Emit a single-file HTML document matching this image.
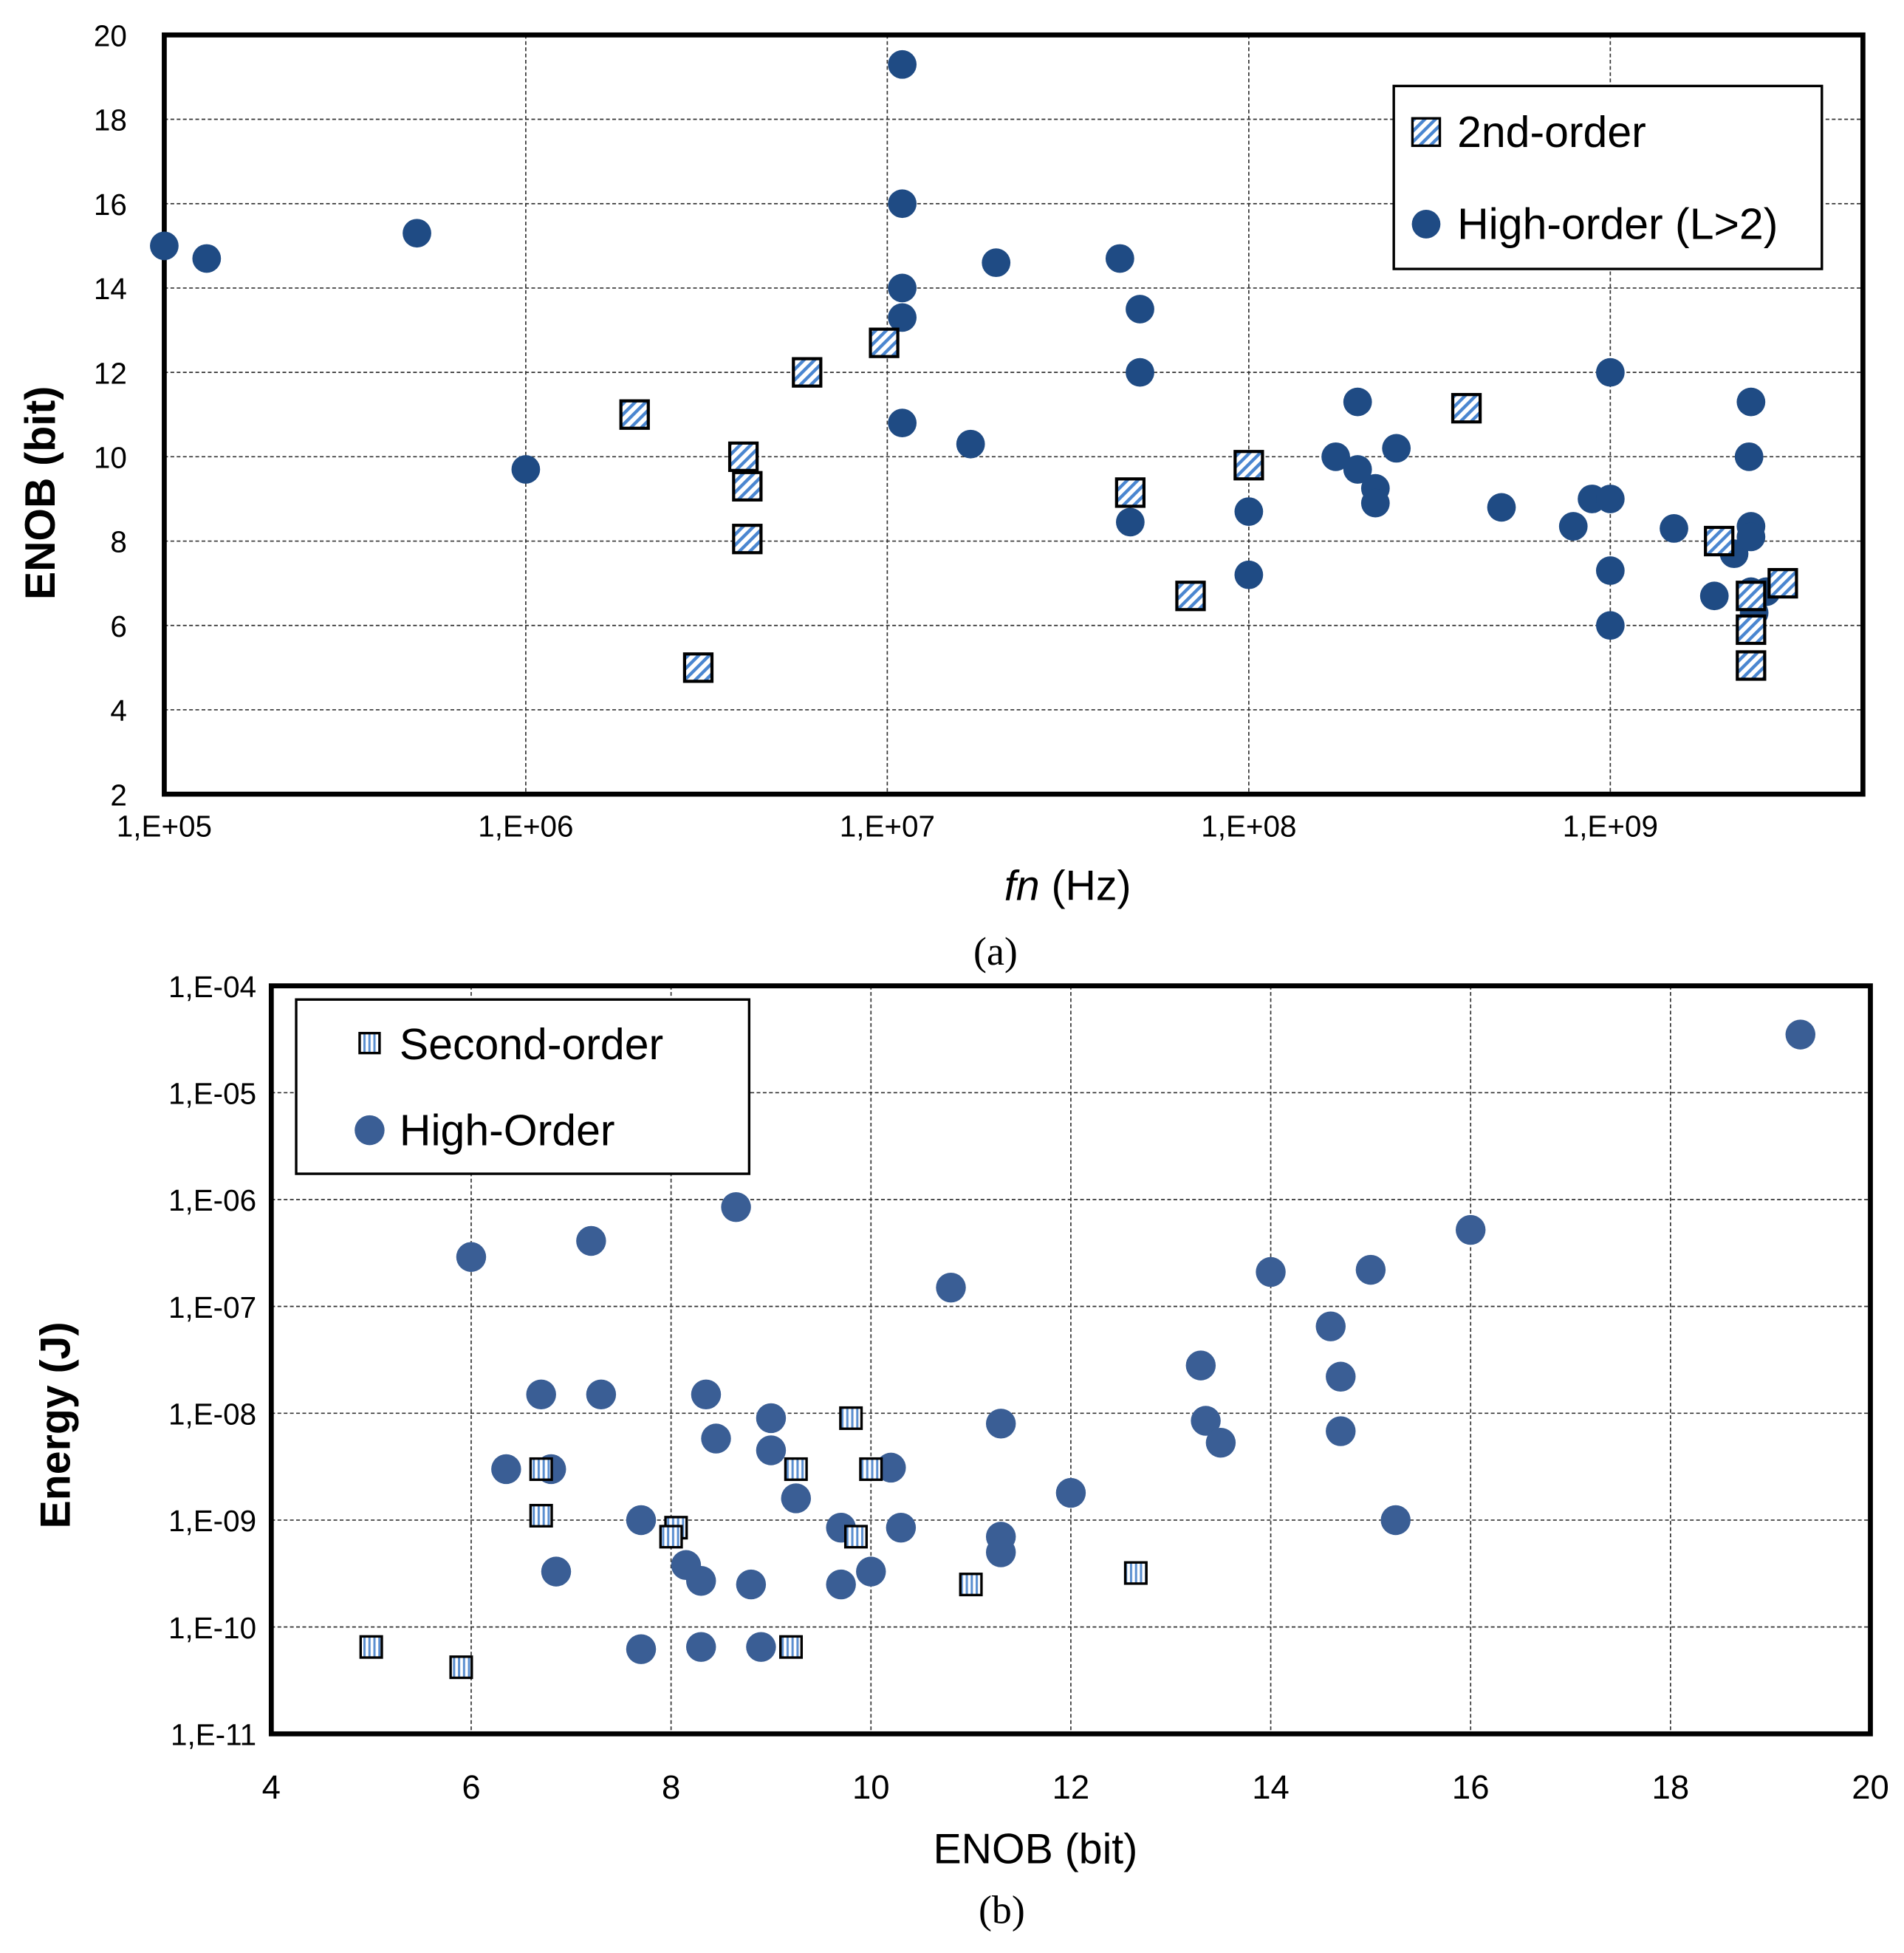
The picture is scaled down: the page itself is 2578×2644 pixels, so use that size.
<!DOCTYPE html>
<html><head><meta charset="utf-8"><style>
html,body{margin:0;padding:0;background:#fff;}
svg{display:block;font-family:"Liberation Sans",sans-serif;}
</style></head><body>
<svg id="fig" width="2578" height="2644" viewBox="0 0 1530 1569" xmlns="http://www.w3.org/2000/svg">
<defs>
<pattern id="diag" width="6" height="6" patternUnits="userSpaceOnUse" patternTransform="rotate(45)">
<rect width="6" height="6" fill="#fff"/><rect width="2.6" height="6" fill="#4a86d0"/></pattern>
<pattern id="vert" width="4" height="4" patternUnits="userSpaceOnUse">
<rect width="4" height="4" fill="#fff"/><rect width="1.8" height="4" fill="#5b8fd0"/></pattern>
</defs>
<g id="chartA"></g>
<g id="chartB"></g>
</svg>
<script>
// Chart (a): ENOB vs fn
const aCircleFn=[1e5,1.31e5,5e5,1e6,1.1e7,1.1e7,1.1e7,1.1e7,1.1e7,1.7e7,2e7,4.4e7,5e7,5e7,4.7e7,1e8,1e8,1.74e8,2e8,2e8,2.24e8,2.24e8,2.56e8,5e8,7.9e8,8.9e8,1e9,1e9,1e9,1e9,1.5e9,1.94e9,2.2e9,2.45e9,2.42e9,2.45e9,2.45e9,2.45e9,2.5e9,2.7e9];
const aCircleEnob=[15,14.7,15.3,9.7,19.3,16,14,13.3,10.8,10.3,14.6,14.7,13.5,12,8.45,8.7,7.2,10,11.3,9.7,9.25,8.9,10.2,8.8,8.35,9,9,12,7.3,6,8.3,6.7,7.7,11.3,10,8.35,8.1,6.8,6.3,6.8];
const aSquareFn=[2e6,4e6,4.1e6,4.1e6,3e6,6e6,9.8e6,4.7e7,6.9e7,1e8,4e8,2e9,2.45e9,2.45e9,2.45e9,3e9];
const aSquareEnob=[11,10,9.3,8.05,5,12,12.7,9.15,6.7,9.8,11.15,8,6.7,5.9,5.05,7];
const aYTicks=[2,4,6,8,10,12,14,16,18,20];
const aXTicks=[5,6,7,8,9];
const aXLabels=["1,E+05","1,E+06","1,E+07","1,E+08","1,E+09"];
// Chart (b): Energy vs ENOB
const bSquareEnob=[5,5.9,6.7,6.7,8.05,8,9.2,9.25,9.8,9.85,10,11,12.65];
const bSquareEnergy=[6.5e-11,4.2e-11,3e-9,1.1e-9,8.5e-10,7e-10,6.5e-11,3e-9,9e-9,7e-10,3e-9,2.5e-10,3.2e-10];
const bCircleEnob=[19.3,16,15,14,14.6,14.7,14.7,15.25,13.3,13.35,13.5,12,11.3,11.3,11.3,10.8,10.2,10.3,10,9.7,9.7,9.25,9,9,8.9,8.8,8.65,8.45,8.35,8.3,8.3,8.15,7.7,7.7,7.3,7.2,6.85,6.8,6.7,6.35,6];
const bCircleEnergy=[3.5e-5,5.2e-7,2.2e-7,2.1e-7,6.5e-8,2.2e-8,6.8e-9,1e-9,2.8e-8,8.5e-9,5.3e-9,1.8e-9,8e-9,7e-10,5e-10,1.5e-7,3.1e-9,8.5e-10,3.3e-10,8.5e-10,2.5e-10,1.6e-9,9e-9,4.5e-9,6.5e-11,2.5e-10,8.5e-7,5.8e-9,1.5e-8,6.5e-11,2.7e-10,3.8e-10,1e-9,6.2e-11,1.5e-8,4.1e-7,3.3e-10,3e-9,1.5e-8,3e-9,2.9e-7];
const bYTicks=[-11,-10,-9,-8,-7,-6,-5,-4];
const bYLabels=["1,E-11","1,E-10","1,E-09","1,E-08","1,E-07","1,E-06","1,E-05","1,E-04"];
const bXTicks=[4,6,8,10,12,14,16,18,20];

const NS="http://www.w3.org/2000/svg";
function mk(parent,tag,attrs,text){const e=document.createElementNS(NS,tag);for(const k in attrs)e.setAttribute(k,attrs[k]);if(text!==undefined)e.textContent=text;parent.appendChild(e);return e;}

// ---- Chart A ----
const A=document.getElementById('chartA');
const aL=132,aR=1497,aT=28,aB=638;
const ax=v=>aL+(Math.log10(v)-5)*290.5;
const ay=v=>aB-(v-2)*(aB-aT)/18;
aYTicks.forEach(t=>{
 if(t>2&&t<20){const g=mk(A,'line',{x1:aL,x2:aR,y1:ay(t),y2:ay(t),stroke:'#333','stroke-width':1,'stroke-dasharray':'3,2'});
 
 }
 const l=mk(A,'text',{x:aL-30,y:ay(t)+9,'text-anchor':'end','font-size':24},String(t));
 
 
});
aXTicks.forEach((t,i)=>{
 const x=ax(Math.pow(10,t));
 if(i>0){const g=mk(A,'line',{x1:x,x2:x,y1:aT,y2:aB,stroke:'#333','stroke-width':1,'stroke-dasharray':'3,2'});
 
 }
 const l=mk(A,'text',{x:x,y:aB+34,'text-anchor':'middle','font-size':24},aXLabels[i]);
 
 
});
const aFrame=mk(A,'rect',{x:aL,y:aT,width:aR-aL,height:aB-aT,fill:'none',stroke:'#000','stroke-width':4});


aCircleFn.forEach((f,i)=>{
 const c=mk(A,'circle',{cx:ax(f),cy:ay(aCircleEnob[i]),r:11.5,fill:'#1f4b84'});
 
 
});
aSquareFn.forEach((f,i)=>{
 const s=mk(A,'rect',{x:ax(f)-11,y:ay(aSquareEnob[i])-11,width:22,height:22,fill:'url(#diag)',stroke:'#000','stroke-width':2.5});
 
 
});
</script>
<script>
(function(){
const A=document.getElementById('chartA');
let t=mk(A,'text',{x:44,y:396,'text-anchor':'middle','font-size':34,'font-weight':'bold',transform:'rotate(-90 44 396)'},'ENOB  (bit)');

t=mk(A,'text',{x:858,y:723,'text-anchor':'middle','font-size':34});

mk(t,'tspan',{'font-style':'italic'},'fn');mk(t,'tspan',{},' (Hz)');
t=mk(A,'text',{x:800,y:775,'text-anchor':'middle','font-size':32,'font-family':'Liberation Serif, serif'},'(a)');

const lg=mk(A,'g',{});

mk(lg,'rect',{x:1120,y:69,width:344,height:147,fill:'#fff',stroke:'#000','stroke-width':2});
mk(lg,'rect',{x:1135,y:95,width:22,height:22,fill:'url(#diag)',stroke:'#000','stroke-width':2});
mk(lg,'text',{x:1171,y:118,'font-size':35},'2nd-order');
mk(lg,'circle',{cx:1146,cy:180,r:11.5,fill:'#1f4b84'});
mk(lg,'text',{x:1171,y:192,'font-size':35},'High-order (L>2)');

// ---- Chart B ----
const B=document.getElementById('chartB');
const bL=218,bR=1503,bT=792,bB=1393;
const bx=v=>bL+(v-4)*(bR-bL)/16;
const by=v=>bB-(Math.log10(v)+11)*(bB-bT)/7;
bYTicks.forEach((e,i)=>{
 const y=by(Math.pow(10,e));
 if(i>0&&i<bYTicks.length-1){const g=mk(B,'line',{x1:bL,x2:bR,y1:y,y2:y,stroke:'#333','stroke-width':1,'stroke-dasharray':'3,2'});
 
 }
 const l=mk(B,'text',{x:bL-12,y:y+9,'text-anchor':'end','font-size':24},bYLabels[i]);
 
 
});
bXTicks.forEach((v,i)=>{
 const x=bx(v);
 if(i>0&&i<bXTicks.length-1){const g=mk(B,'line',{x1:x,x2:x,y1:bT,y2:bB,stroke:'#333','stroke-width':1,'stroke-dasharray':'3,2'});
 
 }
 const l=mk(B,'text',{x:x,y:bB+52,'text-anchor':'middle','font-size':27},String(v));
 
 
});
const fr=mk(B,'rect',{x:bL,y:bT,width:bR-bL,height:bB-bT,fill:'none',stroke:'#000','stroke-width':4});


bCircleEnob.forEach((v,i)=>{
 const c=mk(B,'circle',{cx:bx(v),cy:by(bCircleEnergy[i]),r:12,fill:'#3a5e95'});
 
 
});
bSquareEnob.forEach((v,i)=>{
 const s=mk(B,'rect',{x:bx(v)-8.5,y:by(bSquareEnergy[i])-8.5,width:17,height:17,fill:'url(#vert)',stroke:'#000','stroke-width':2});
 
 
});
t=mk(B,'text',{x:56,y:1145,'text-anchor':'middle','font-size':34,'font-weight':'bold',transform:'rotate(-90 56 1145)'},'Energy (J)');

t=mk(B,'text',{x:832,y:1497,'text-anchor':'middle','font-size':34},'ENOB (bit)');

t=mk(B,'text',{x:805,y:1545,'text-anchor':'middle','font-size':32,'font-family':'Liberation Serif, serif'},'(b)');

const lb=mk(B,'g',{});

mk(lb,'rect',{x:238,y:803,width:364,height:140,fill:'#fff',stroke:'#000','stroke-width':2});
mk(lb,'rect',{x:289,y:830,width:16,height:16,fill:'url(#vert)',stroke:'#000','stroke-width':2});
mk(lb,'text',{x:321,y:851,'font-size':35},'Second-order');
mk(lb,'circle',{cx:297,cy:908,r:12,fill:'#3a5e95'});
mk(lb,'text',{x:321,y:920,'font-size':35},'High-Order');
})();
</script>
</body></html>
